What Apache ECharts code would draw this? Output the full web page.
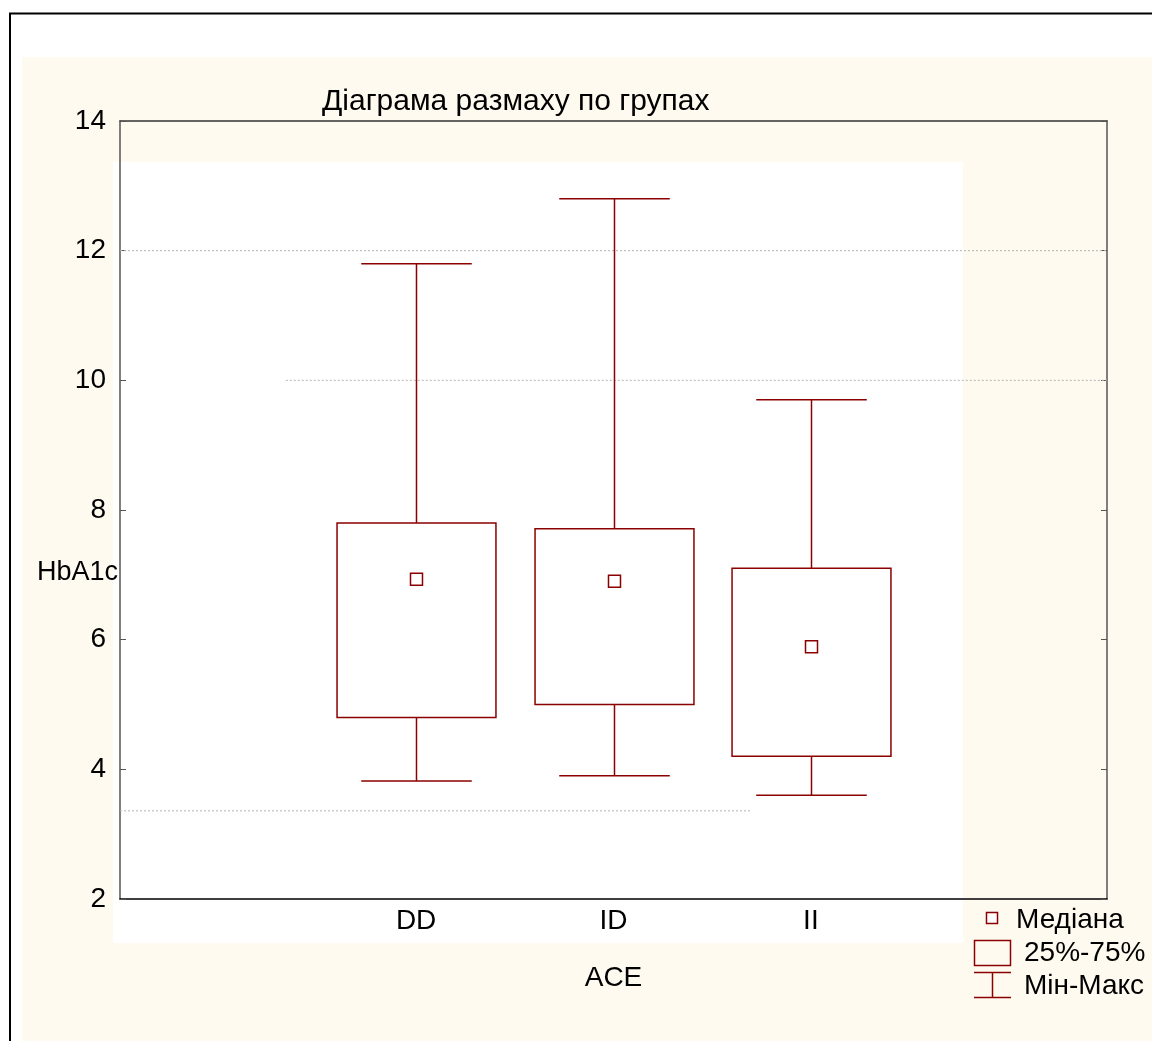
<!DOCTYPE html>
<html>
<head>
<meta charset="utf-8">
<script src="https://cdn.jsdelivr.net/npm/echarts@6/dist/echarts.min.js"></script>
<style>
html,body{margin:0;padding:0;background:#fff;}
#chart{width:1152px;height:1041px;}
</style>
</head>
<body>
<div id="chart"></div>
<script>
// ---- data ----
var categories = ['', 'DD', 'ID', 'II', ''];
var groups = ['DD', 'ID', 'II'];
var minVals = [3.82, 3.9, 3.6];
var q1Vals = [4.8, 5.0, 4.2];
var medianVals = [6.93, 6.9, 5.89];
var q3Vals = [7.8, 7.71, 7.1];
var maxVals = [11.8, 12.8, 9.7];
var yTicks = [2, 4, 6, 8, 10, 12, 14];
// dotted reference lines (y value, x start, x end in band units)
var gridY = [12, 10, 3.36];
var gridXStart = [-0.5, 0.34, -0.5];
var gridXEnd = [4.5, 4.5, 2.7];

var titleText = 'Діаграма размаху по групах';
var yName = 'HbA1c';
var xName = 'ACE';
var legendLabels = ['Медіана', '25%-75%', 'Мін-Макс'];

var RED = '#8B0000';
var FONT = 'Liberation Sans, Arial, sans-serif';
var FS = 28;

var boxData = groups.map(function (g, i) {
  return [g, minVals[i], q1Vals[i], medianVals[i], q3Vals[i], maxVals[i]];
});

var gridSeries = gridY.map(function (y, i) {
  return {
    type: 'line',
    xAxisIndex: 2,
    yAxisIndex: 0,
    silent: true,
    symbol: 'none',
    z: 1,
    lineStyle: { color: '#b4b4b4', width: 1, type: [2, 2] },
    data: [[gridXStart[i], y], [gridXEnd[i], y]]
  };
});

var chart = echarts.init(document.getElementById('chart'));
var option = {
  backgroundColor: '#ffffff',
  animation: false,
  title: {
    text: titleText,
    left: 317,
    top: 82,
    textStyle: { fontFamily: FONT, fontSize: 30, fontWeight: 'normal', color: '#000' }
  },
  grid: { left: 120, top: 121, right: 45, bottom: 142, containLabel: false, outerBoundsMode: 'none' },
  xAxis: [
    {
      type: 'category',
      data: categories,
      position: 'bottom',
      boundaryGap: true,
      name: xName,
      nameLocation: 'middle',
      nameGap: 65,
      nameTextStyle: { fontFamily: FONT, fontSize: FS, color: '#000' },
      axisLine: { onZero: false, lineStyle: { color: '#000', width: 1.5 } },
      axisTick: { inside: true, alignWithLabel: true, interval: 0, length: 6, lineStyle: { color: '#555' } },
      axisLabel: { interval: 0, margin: 8, fontFamily: FONT, fontSize: FS, color: '#000' },
      splitLine: { show: false }
    },
    {
      type: 'category',
      data: categories,
      position: 'top',
      boundaryGap: true,
      axisLine: { onZero: false, lineStyle: { color: '#333', width: 1.5 } },
      axisTick: { inside: true, alignWithLabel: true, interval: 0, length: 6, lineStyle: { color: '#555' } },
      axisLabel: { show: false },
      splitLine: { show: false }
    },
    {
      type: 'value',
      min: -0.5,
      max: 4.5,
      show: false,
      axisLine: { onZero: false }
    }
  ],
  yAxis: [
    {
      type: 'value',
      min: 2,
      max: 14,
      interval: 2,
      position: 'left',
      axisLine: { show: true, onZero: false, lineStyle: { color: '#555', width: 1.5 } },
      axisTick: { show: true, inside: true, length: 6, lineStyle: { color: '#555' } },
      axisLabel: {
        margin: 14, fontFamily: FONT, fontSize: FS, color: '#000',
        formatter: function (v) { return yTicks.indexOf(v) >= 0 ? String(v) : ''; }
      },
      splitLine: { show: false }
    },
    {
      type: 'value',
      min: 2,
      max: 14,
      interval: 2,
      position: 'right',
      axisLine: { show: true, onZero: false, lineStyle: { color: '#555', width: 1.5 } },
      axisTick: { show: true, inside: true, length: 6, lineStyle: { color: '#555' } },
      axisLabel: { show: false },
      splitLine: { show: false }
    }
  ],
  graphic: [
    { type: 'rect', z: -10, silent: true, shape: { x: 22, y: 57, width: 1200, height: 1100 }, style: { fill: '#FFFAF0' } },
    { type: 'rect', z: -9, silent: true, shape: { x: 113, y: 162, width: 850, height: 781 }, style: { fill: '#ffffff' } },
    { type: 'rect', z: -8, silent: true, shape: { x: 10, y: 13.5, width: 1300, height: 1200 }, style: { fill: 'none', stroke: '#000', lineWidth: 2 } },
    // y axis name
    { type: 'text', z: 10, style: { x: 118, y: 573, text: yName, font: '27px ' + FONT, fill: '#000', align: 'right', verticalAlign: 'middle' } },
    // legend
    { type: 'rect', z: 10, shape: { x: 986.5, y: 912.5, width: 11, height: 11 }, style: { fill: '#fff', stroke: RED, lineWidth: 1.5 } },
    { type: 'text', z: 10, style: { x: 1016, y: 920, text: legendLabels[0], font: FS + 'px ' + FONT, fill: '#000', verticalAlign: 'middle' } },
    { type: 'rect', z: 10, shape: { x: 974.5, y: 940.5, width: 36, height: 25 }, style: { fill: 'none', stroke: RED, lineWidth: 1.5 } },
    { type: 'text', z: 10, style: { x: 1024, y: 953, text: legendLabels[1], font: FS + 'px ' + FONT, fill: '#000', verticalAlign: 'middle' } },
    { type: 'line', z: 10, shape: { x1: 974, y1: 972.5, x2: 1011, y2: 972.5 }, style: { stroke: RED, lineWidth: 1.5 } },
    { type: 'line', z: 10, shape: { x1: 992.5, y1: 972.5, x2: 992.5, y2: 997.5 }, style: { stroke: RED, lineWidth: 1.5 } },
    { type: 'line', z: 10, shape: { x1: 974, y1: 997.5, x2: 1011, y2: 997.5 }, style: { stroke: RED, lineWidth: 1.5 } },
    { type: 'text', z: 10, style: { x: 1024, y: 986, text: legendLabels[2], font: FS + 'px ' + FONT, fill: '#000', verticalAlign: 'middle' } }
  ],
  series: gridSeries.concat([
    {
      type: 'custom',
      xAxisIndex: 0,
      yAxisIndex: 0,
      z: 3,
      encode: { x: 0, y: [1, 2, 3, 4, 5] },
      data: boxData,
      renderItem: function (params, api) {
        var x = api.value(0);
        var pMin = api.coord([x, api.value(1)]);
        var pQ1 = api.coord([x, api.value(2)]);
        var pMed = api.coord([x, api.value(3)]);
        var pQ3 = api.coord([x, api.value(4)]);
        var pMax = api.coord([x, api.value(5)]);
        var band = api.size([1, 0])[0];
        var bw = band * 0.805;
        var cw = band * 0.56;
        var cx = Math.round(pMed[0]) + 0.5;
        var st = { stroke: RED, lineWidth: 1.5, fill: 'none' };
        var ms = 12;
        return {
          type: 'group',
          children: [
            { type: 'line', shape: { x1: cx, y1: pMax[1], x2: cx, y2: pQ3[1] }, style: st },
            { type: 'line', shape: { x1: cx, y1: pQ1[1], x2: cx, y2: pMin[1] }, style: st },
            { type: 'line', shape: { x1: cx - cw / 2, y1: pMax[1], x2: cx + cw / 2, y2: pMax[1] }, style: st },
            { type: 'line', shape: { x1: cx - cw / 2, y1: pMin[1], x2: cx + cw / 2, y2: pMin[1] }, style: st },
            { type: 'rect', shape: { x: cx - bw / 2, y: pQ3[1], width: bw, height: pQ1[1] - pQ3[1] }, style: st },
            { type: 'rect', shape: { x: cx - ms / 2, y: pMed[1] - ms / 2, width: ms, height: ms }, style: { stroke: RED, lineWidth: 1.5, fill: '#fff' } }
          ]
        };
      }
    }
  ])
};
chart.setOption(option);
</script>
</body>
</html>
